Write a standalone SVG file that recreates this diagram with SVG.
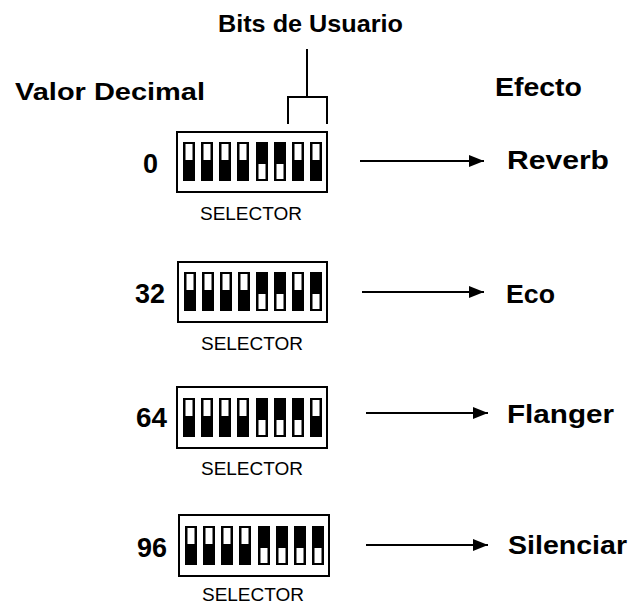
<svg xmlns="http://www.w3.org/2000/svg" width="631" height="605" viewBox="0 0 631 605">
<defs>
<style>
.hdr{font-family:"Liberation Sans",Arial,sans-serif;font-weight:bold;font-size:24px;fill:#000}
.lbl{font-family:"Liberation Sans",Arial,sans-serif;font-weight:bold;font-size:26px;fill:#000}
.num{font-family:"Liberation Sans",Arial,sans-serif;font-weight:bold;font-size:27px;fill:#000}
.sel{font-family:"Liberation Sans",Arial,sans-serif;font-size:19px;fill:#000}
.box{fill:#fff;stroke:#000;stroke-width:2}
.sw{fill:#000}
.hole{fill:#fff}
.ln{stroke:#000;stroke-width:2;fill:none}
</style>
<marker id="ah" markerUnits="userSpaceOnUse" markerWidth="16" markerHeight="13" refX="15" refY="6" orient="auto">
<path d="M0,0 L15,6 L0,12 Z" fill="#000"/>
</marker>
<g id="swT"><rect class="sw" x="0" y="0" width="12" height="39"/><rect class="hole" x="2.5" y="2" width="7" height="16"/></g>
<g id="swB"><rect class="sw" x="0" y="0" width="12" height="39"/><rect class="hole" x="2.5" y="22" width="7" height="15"/></g>
</defs>
<rect width="631" height="605" fill="#fff"/>

<g id="headers">
<text class="hdr" x="15" y="100" textLength="190" lengthAdjust="spacingAndGlyphs">Valor Decimal</text>
<text class="hdr" x="218" y="32" textLength="185" lengthAdjust="spacingAndGlyphs">Bits de Usuario</text>
<text class="lbl" x="495" y="96" textLength="87" lengthAdjust="spacingAndGlyphs">Efecto</text>
</g>

<g id="bracket">
<path class="ln" d="M307,49 V97 M288,124 V97 H327 V124"/>
</g>

<g id="row0">
<text class="num" x="143" y="173" font-size="25">0</text>
<rect class="box" x="177" y="132" width="150" height="60"/>
<use href="#swT" x="183" y="142"/><use href="#swT" x="201" y="142"/><use href="#swT" x="219" y="142"/><use href="#swT" x="237" y="142"/>
<use href="#swB" x="256" y="142"/><use href="#swB" x="274" y="142"/><use href="#swT" x="292" y="142"/><use href="#swT" x="310" y="142"/>
<text class="sel" x="251" y="220" text-anchor="middle">SELECTOR</text>
</g>

<g id="row32">
<text class="num" x="135" y="303" textLength="30" lengthAdjust="spacingAndGlyphs">32</text>
<rect class="box" x="178" y="262" width="149" height="60"/>
<use href="#swT" x="184" y="272"/><use href="#swT" x="202" y="272"/><use href="#swT" x="220" y="272"/><use href="#swT" x="238" y="272"/>
<use href="#swB" x="256" y="272"/><use href="#swB" x="274" y="272"/><use href="#swT" x="292" y="272"/><use href="#swB" x="310" y="272"/>
<text class="sel" x="252" y="350" text-anchor="middle">SELECTOR</text>
</g>

<g id="row64">
<text class="num" x="136" y="427" textLength="31" lengthAdjust="spacingAndGlyphs">64</text>
<rect class="box" x="177" y="387" width="150" height="61"/>
<use href="#swT" x="183" y="398"/><use href="#swT" x="201" y="398"/><use href="#swT" x="219" y="398"/><use href="#swT" x="237" y="398"/>
<use href="#swB" x="256" y="398"/><use href="#swB" x="274" y="398"/><use href="#swB" x="292" y="398"/><use href="#swT" x="310" y="398"/>
<text class="sel" x="252" y="475" text-anchor="middle">SELECTOR</text>
</g>

<g id="row96">
<text class="num" x="137" y="557" textLength="30" lengthAdjust="spacingAndGlyphs">96</text>
<rect class="box" x="179" y="515" width="150" height="61"/>
<use href="#swT" x="185" y="526"/><use href="#swT" x="203" y="526"/><use href="#swT" x="221" y="526"/><use href="#swT" x="239" y="526"/>
<use href="#swB" x="258" y="526"/><use href="#swB" x="276" y="526"/><use href="#swB" x="294" y="526"/><use href="#swB" x="312" y="526"/>
<text class="sel" x="253" y="601" text-anchor="middle">SELECTOR</text>
</g>

<g id="effects">
<text class="lbl" x="507" y="169" textLength="102" lengthAdjust="spacingAndGlyphs">Reverb</text>
<text class="lbl" x="506" y="303" textLength="49" lengthAdjust="spacingAndGlyphs">Eco</text>
<text class="lbl" x="507" y="423" textLength="107" lengthAdjust="spacingAndGlyphs">Flanger</text>
<text class="lbl" x="508" y="554" textLength="119" lengthAdjust="spacingAndGlyphs">Silenciar</text>
</g>

<g id="connectors">
<line class="ln" x1="360" y1="161" x2="484" y2="161" marker-end="url(#ah)"/>
<line class="ln" x1="362" y1="292" x2="484" y2="292" marker-end="url(#ah)"/>
<line class="ln" x1="366" y1="413" x2="488" y2="413" marker-end="url(#ah)"/>
<line class="ln" x1="366" y1="545" x2="488" y2="545" marker-end="url(#ah)"/>
</g>
</svg>
